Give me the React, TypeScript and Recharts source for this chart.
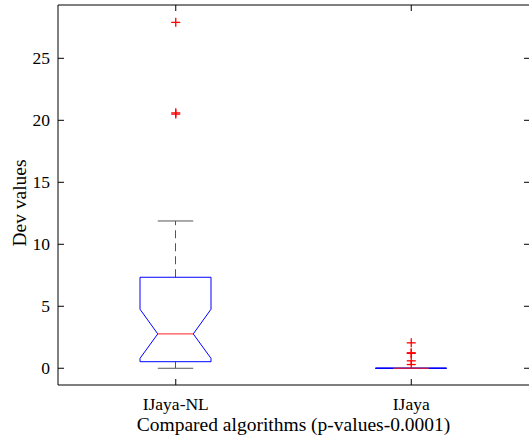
import { ComposedChart, Bar, Scatter, XAxis, YAxis } from 'recharts';

const CATEGORIES = ['IJaya-NL', 'IJaya'];
const LOWER_WHISKER = [0, 0];
const Q1 = [0.53, 0];
const NOTCH_LOW = [0.8, 0];
const MEDIAN = [2.77, 0];
const NOTCH_HIGH = [4.76, 0];
const Q3 = [7.34, 0];
const UPPER_WHISKER = [11.88, 0];
const OUTLIERS_NL = [27.9, 20.5, 20.6];
const OUTLIERS_IJ = [2.05, 1.25, 1.2, 0.6, 0.3];
const Y_TICKS = [0, 5, 10, 15, 20, 25];
const Y_DOMAIN: [number, number] = [-1.35, 29.3];

const FONT = '"Liberation Serif", "Times New Roman", serif';
const TICK_STYLE = { fontFamily: FONT, fontSize: 17.5 };
const TITLE_STYLE = { fontFamily: FONT, fontSize: 19.5 };

const boxes = CATEGORIES.map((name, i) => ({
  name,
  lower: LOWER_WHISKER[i],
  q1: Q1[i],
  notchLow: NOTCH_LOW[i],
  median: MEDIAN[i],
  notchHigh: NOTCH_HIGH[i],
  q3: Q3[i],
  upper: UPPER_WHISKER[i],
}));

const outliers = [
  ...OUTLIERS_NL.map((value) => ({ name: CATEGORIES[0], value })),
  ...OUTLIERS_IJ.map((value) => ({ name: CATEGORIES[1], value })),
];

// bar spans the whole y domain, so its y/height give us the axis scale
const BoxShape = (props: any) => {
  const { x, y, width, height, payload } = props;
  const [lo, hi] = Y_DOMAIN;
  const toY = (v: number) => y + ((hi - v) / (hi - lo)) * height;
  const cx = x + width / 2;
  const half = width / 2;
  const q = half / 2;
  const d = payload;
  const path = [
    `M${cx - half},${toY(d.q3)}`,
    `L${cx + half},${toY(d.q3)}`,
    `L${cx + half},${toY(d.notchHigh)}`,
    `L${cx + q},${toY(d.median)}`,
    `L${cx + half},${toY(d.notchLow)}`,
    `L${cx + half},${toY(d.q1)}`,
    `L${cx - half},${toY(d.q1)}`,
    `L${cx - half},${toY(d.notchLow)}`,
    `L${cx - q},${toY(d.median)}`,
    `L${cx - half},${toY(d.notchHigh)}`,
    'Z',
  ].join(' ');
  const wc = '#555';
  return (
    <g>
      <line x1={cx} x2={cx} y1={toY(d.q3)} y2={toY(d.upper)} stroke={wc} strokeDasharray="8 5" />
      <line x1={cx} x2={cx} y1={toY(d.q1)} y2={toY(d.lower)} stroke={wc} strokeDasharray="8 5" />
      <line x1={cx - q} x2={cx + q} y1={toY(d.upper)} y2={toY(d.upper)} stroke={wc} />
      <line x1={cx - q} x2={cx + q} y1={toY(d.lower)} y2={toY(d.lower)} stroke={wc} />
      <path d={path} fill="none" stroke="#0000ff" strokeWidth={1} />
      <line x1={cx - q} x2={cx + q} y1={toY(d.median)} y2={toY(d.median)} stroke="#ff2020" />
    </g>
  );
};

const Plus = (props: any) => {
  const { cx, cy } = props;
  const s = 4.5;
  return (
    <g stroke="#ff0000" strokeWidth={1.3}>
      <line x1={cx - s} x2={cx + s} y1={cy} y2={cy} />
      <line x1={cx} x2={cx} y1={cy - s} y2={cy + s} />
    </g>
  );
};

const LeftTick = (props: any) => {
  const { x, y, payload } = props;
  return (
    <g>
      <line x1={x} x2={x + 6} y1={y} y2={y} stroke="#000" />
      <text x={x - 8} y={y} dy={6} textAnchor="end" style={TICK_STYLE} fill="#000">
        {payload.value}
      </text>
    </g>
  );
};

const RightTick = (props: any) => {
  const { x, y } = props;
  return <line x1={x - 5} x2={x} y1={y} y2={y} stroke="#000" />;
};

const BottomTick = (props: any) => {
  const { x, y, payload } = props;
  return (
    <g>
      <line x1={x} x2={x} y1={y} y2={y - 6} stroke="#000" />
      <text x={x} y={y + 25} textAnchor="middle" style={TICK_STYLE} fill="#000">
        {payload.value}
      </text>
    </g>
  );
};

const TopTick = (props: any) => {
  const { x, y } = props;
  return <line x1={x} x2={x} y1={y} y2={y + 6} stroke="#000" />;
};

const YLabel = (props: any) => {
  const { viewBox } = props;
  const lx = viewBox.x + 26;
  const ly = viewBox.y + viewBox.height / 2 + 8;
  return (
    <text
      x={lx}
      y={ly}
      transform={`rotate(-90, ${lx}, ${ly})`}
      textAnchor="middle"
      style={TITLE_STYLE}
      fill="#000"
    >
      Dev values
    </text>
  );
};

const XLabel = (props: any) => {
  const { viewBox } = props;
  return (
    <text
      x={viewBox.x + viewBox.width / 2}
      y={viewBox.y + viewBox.height - 12}
      textAnchor="middle"
      style={TITLE_STYLE}
      fill="#000"
    >
      Compared algorithms (p-values-0.0001)
    </text>
  );
};

export default function App() {
  return (
    <div style={{ position: 'absolute', left: 0, top: 0, width: 529, height: 443, background: '#fff' }}>
      <ComposedChart width={529} height={443} data={boxes} margin={{ top: 4, right: -1, bottom: 0, left: 0 }}>
        <XAxis
          dataKey="name"
          type="category"
          allowDuplicatedCategory={false}
          height={58}
          tickSize={0}
          tickMargin={0}
          tickLine={false}
          axisLine={{ stroke: '#000' }}
          tick={<BottomTick />}
          interval={0}
          label={XLabel}
        />
        <XAxis
          xAxisId="top"
          orientation="top"
          dataKey="name"
          type="category"
          allowDuplicatedCategory={false}
          height={1}
          tickSize={0}
          tickMargin={0}
          tickLine={false}
          axisLine={{ stroke: '#000' }}
          tick={<TopTick />}
          interval={0}
        />
        <YAxis
          type="number"
          domain={Y_DOMAIN}
          ticks={Y_TICKS}
          allowDataOverflow
          width={58}
          tickSize={0}
          tickMargin={0}
          tickLine={false}
          axisLine={{ stroke: '#000' }}
          tick={<LeftTick />}
          interval={0}
          label={YLabel}
        />
        <YAxis
          yAxisId="right"
          orientation="right"
          type="number"
          domain={Y_DOMAIN}
          ticks={Y_TICKS}
          allowDataOverflow
          width={1}
          tickSize={0}
          tickMargin={0}
          tickLine={false}
          axisLine={false}
          tick={<RightTick />}
          interval={0}
        />
        <Bar
          dataKey={() => Y_DOMAIN}
          barSize={71}
          shape={<BoxShape />}
          isAnimationActive={false}
        />
        <Scatter
          data={outliers}
          dataKey="value"
          xAxisId="top"
          yAxisId="right"
          shape={<Plus />}
          isAnimationActive={false}
        />
      </ComposedChart>
    </div>
  );
}
